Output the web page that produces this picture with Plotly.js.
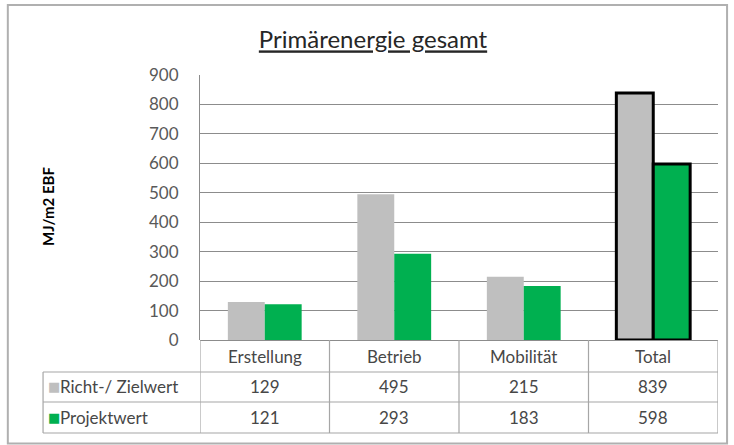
<!DOCTYPE html>
<html>
<head>
<meta charset="utf-8">
<script src="https://cdn.plot.ly/plotly-3.0.1.min.js"></script>
<style>html,body{margin:0;padding:0;background:#fff;}#chart{width:734px;height:445px;}</style>
</head>
<body>
<div id="chart"></div>
<script>
var categories = ["Erstellung", "Betrieb", "Mobilität", "Total"];
var seriesNames = ["Richt-/ Zielwert", "Projektwert"];
var richtWerte = [129, 495, 215, 839];
var projektWerte = [121, 293, 183, 598];
var yTicks = [0, 100, 200, 300, 400, 500, 600, 700, 800, 900];
var chartTitle = "Primärenergie gesamt";
var yTitle = "MJ/m2 EBF";

var colGray = "#BFBFBF", colGreen = "#00B050";
var FONT = "Lato, 'Liberation Sans', sans-serif";
var textCol = "#474747";
var lineCol = "#A6A6A6";

function borderWidths() { return categories.map(function (c, i) { return i === categories.length - 1 ? 3 : 0; }); }

var traces = [
  { type: "bar", name: seriesNames[0], x: categories, y: richtWerte,
    marker: { color: colGray, line: { color: "#000", width: borderWidths() } }, hoverinfo: "x+y" },
  { type: "bar", name: seriesNames[1], x: categories, y: projektWerte,
    marker: { color: colGreen, line: { color: "#000", width: borderWidths() } }, hoverinfo: "x+y" }
];

// table geometry (paper coords; y=0 is the zero line)
var rowLines = [-0.1208, -0.234, -0.351];
var rowCenters = [-0.062, -0.177, -0.292];
var leftX = -0.303;

var shapes = [];
shapes.push({ type: "rect", xref: "paper", yref: "paper", x0: -0.371, x1: 1.0175, y0: -0.3905, y1: 1.264,
  line: { color: "#B0B0B0", width: 2 } });
rowLines.forEach(function (y) {
  shapes.push({ type: "line", xref: "paper", yref: "paper", x0: leftX, x1: 1, y0: y, y1: y, line: { color: lineCol, width: 1.2 } });
});
for (var i = 0; i <= categories.length; i++) {
  shapes.push({ type: "line", xref: "x", yref: "paper", x0: i - 0.5, x1: i - 0.5, y0: 0, y1: rowLines[2], line: { color: lineCol, width: 1.2 } });
}
shapes.push({ type: "line", xref: "paper", yref: "paper", x0: leftX, x1: leftX, y0: rowLines[0], y1: rowLines[2], line: { color: lineCol, width: 1.2 } });

var TSIZE = 17;
var annotations = [];
categories.forEach(function (c, i) {
  annotations.push({ xref: "x", yref: "paper", x: i, y: rowCenters[0], text: c, showarrow: false,
    font: { family: FONT, size: TSIZE, color: textCol }, xanchor: "center", yanchor: "middle" });
  annotations.push({ xref: "x", yref: "paper", x: i, y: rowCenters[1], text: String(richtWerte[i]), showarrow: false,
    font: { family: FONT, size: TSIZE, color: textCol }, xanchor: "center", yanchor: "middle" });
  annotations.push({ xref: "x", yref: "paper", x: i, y: rowCenters[2], text: String(projektWerte[i]), showarrow: false,
    font: { family: FONT, size: TSIZE, color: textCol }, xanchor: "center", yanchor: "middle" });
});
var legendCols = [colGray, colGreen];
seriesNames.forEach(function (n, k) {
  annotations.push({ xref: "paper", yref: "paper", x: -0.297, y: rowCenters[k + 1], showarrow: false,
    text: "■", font: { family: "DejaVu Sans", size: 13, color: legendCols[k] },
    xanchor: "left", yanchor: "middle" });
  annotations.push({ xref: "paper", yref: "paper", x: -0.275, y: rowCenters[k + 1], showarrow: false,
    text: n, font: { family: FONT, size: TSIZE, color: textCol }, xanchor: "left", yanchor: "middle" });
});
annotations.push({ xref: "paper", yref: "paper", x: (48 - 200) / 518, y: (340 - 207) / 265, text: "<b>" + yTitle + "</b>",
  textangle: -90, showarrow: false, font: { family: FONT, size: 15, color: "#000" }, xanchor: "center", yanchor: "middle" });

var layout = {
  width: 734, height: 445,
  margin: { l: 200, r: 16, t: 75, b: 105, pad: 0 },
  paper_bgcolor: "#fff", plot_bgcolor: "#fff",
  showlegend: false,
  barmode: "group", bargap: 0.43, bargroupgap: 0,
  title: { text: "<u>" + chartTitle + "</u>", xref: "container", yref: "container", x: 373 / 734, y: 1 - 40 / 445,
    xanchor: "center", yanchor: "middle", font: { family: FONT, size: 24, color: "#262626" } },
  xaxis: { type: "category", showticklabels: false, showgrid: false, zeroline: false, showline: false,
    range: [-0.5, categories.length - 0.5], fixedrange: true },
  yaxis: { range: [0, 900], tickvals: yTicks, ticktext: yTicks.map(String), showgrid: true, gridcolor: "#8C8C8C", gridwidth: 1,
    zeroline: true, zerolinecolor: "#8C8C8C", zerolinewidth: 1, showline: true, linecolor: "#8C8C8C", linewidth: 1,
    ticks: "", ticklabelstandoff: 17, tickfont: { family: FONT, size: 17, color: "#595959" }, fixedrange: true },
  shapes: shapes,
  annotations: annotations
};

Plotly.newPlot("chart", traces, layout, { displayModeBar: false, staticPlot: true });
</script>
</body>
</html>
